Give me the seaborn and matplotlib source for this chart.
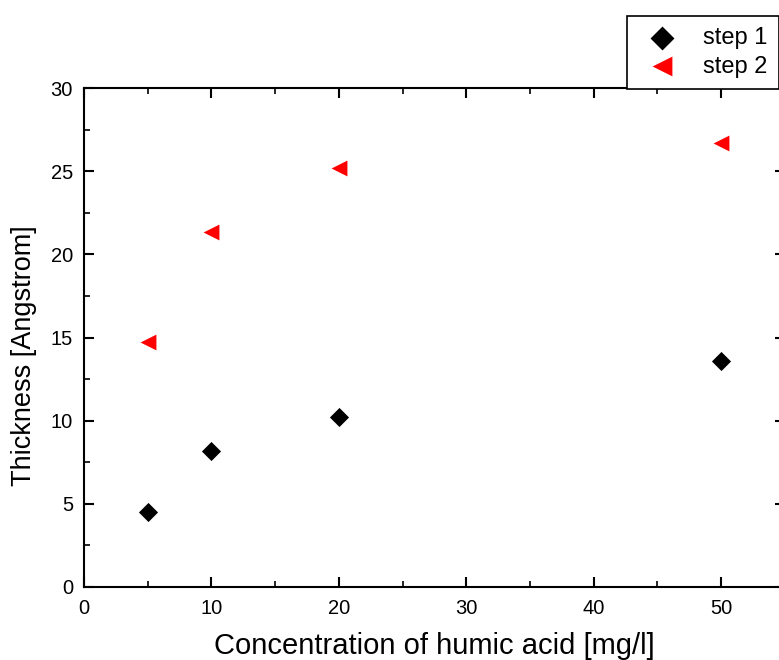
import matplotlib
matplotlib.use("Agg")
import matplotlib.pyplot as plt
from matplotlib.ticker import MultipleLocator
import seaborn as sns
import pandas as pd

concentration = [5, 10, 20, 50]
step1 = [4.5, 8.2, 10.2, 13.6]
step2 = [14.7, 21.35, 25.2, 26.7]
series_names = ["step 1", "step 2"]

sns.set_theme(style="white")
plt.rcParams['font.family'] = ['Liberation Sans', 'DejaVu Sans']
plt.rcParams['text.color'] = 'black'
plt.rcParams['axes.labelcolor'] = 'black'
plt.rcParams['xtick.color'] = 'black'
plt.rcParams['ytick.color'] = 'black'

df1 = pd.DataFrame({"x": concentration, "y": step1})
df2 = pd.DataFrame({"x": concentration, "y": step2})

fig = plt.figure(figsize=(7.79, 6.60), dpi=100)
ax = fig.add_axes([84 / 779, 73 / 660, 700.7 / 779, 499 / 660])

sns.scatterplot(data=df1, x="x", y="y", color="black", marker="D",
                s=95, linewidth=0, ax=ax, label=series_names[0])
sns.scatterplot(data=df2, x="x", y="y", color="red", marker="<",
                s=130, linewidth=0, ax=ax, label=series_names[1])

ax.set_xlim(0, 55)
ax.set_ylim(0, 30)
ax.xaxis.set_major_locator(MultipleLocator(10))
ax.xaxis.set_minor_locator(MultipleLocator(5))
ax.yaxis.set_major_locator(MultipleLocator(5))
ax.yaxis.set_minor_locator(MultipleLocator(2.5))
ax.tick_params(which="both", direction="in", top=True, right=True,
               bottom=True, left=True, colors="black", labelcolor="black",
               labelsize=14.5)
ax.tick_params(axis="x", which="both", pad=9)
ax.tick_params(axis="y", which="both", pad=8)
ax.tick_params(which="major", length=7, width=1.5)
ax.tick_params(which="minor", length=4, width=1.2)
for sp in ax.spines.values():
    sp.set_color("black")
    sp.set_linewidth(1.5)

ax.set_xlabel("Concentration of humic acid [mg/l]", fontsize=21, labelpad=9.5, color="black")
ax.set_ylabel("Thickness [Angstrom]", fontsize=19.5, color="black")
ax.yaxis.set_label_coords(-0.067, 0.463)

handles, labels = ax.get_legend_handles_labels()
leg = ax.legend(handles, labels, loc="upper left",
                bbox_to_anchor=(627 / 779, 1 - 15.5 / 660), bbox_transform=fig.transFigure,
                frameon=True, fancybox=False, framealpha=1, edgecolor="black",
                fontsize=17, markerscale=1.25, borderpad=0.5, handletextpad=0.75,
                labelspacing=0.27, handlelength=1.95, borderaxespad=0)
leg.get_frame().set_linewidth(1.2)
for t in leg.get_texts():
    t.set_color("black")

fig.savefig("out.png", dpi=100)
